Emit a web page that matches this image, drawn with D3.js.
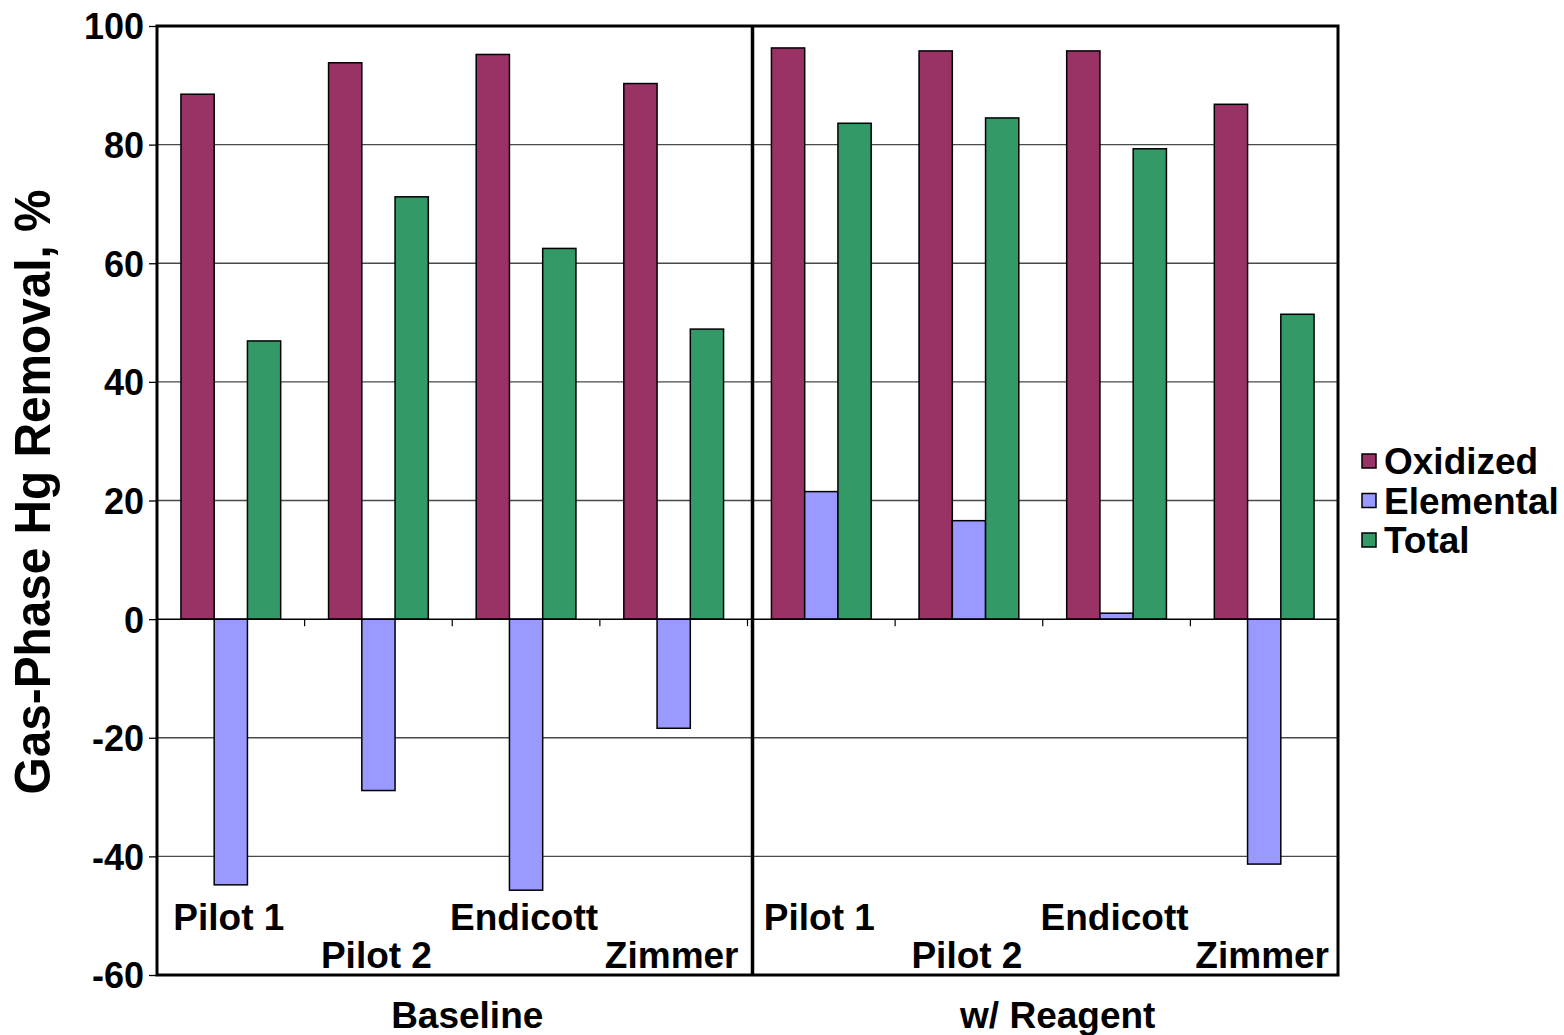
<!DOCTYPE html>
<html>
<head>
<meta charset="utf-8">
<script src="https://cdn.jsdelivr.net/npm/d3@7"></script>
<style>
  html, body { margin: 0; padding: 0; background: #fff; }
  svg { display: block; }
  text { font-family: Arial, "Liberation Sans", sans-serif; font-weight: bold; fill: #000; }
</style>
</head>
<body>
<svg id="chart" width="1564" height="1035"></svg>
<script>
// Sites tested, in the order they appear in each condition block
const sites = ["Pilot 1", "Pilot 2", "Endicott", "Zimmer"];
const conditions = ["Baseline", "w/ Reagent"];
const seriesNames = ["Oxidized", "Elemental", "Total"];
const seriesColors = ["#993366", "#9999FF", "#339966"];

// Removal (%) per site, baseline then with reagent
const oxidized  = [88.5, 93.8, 95.2, 90.3,   96.3, 95.8, 95.8, 86.8];
const elemental = [-44.8, -28.9, -45.7, -18.4, 21.5, 16.6, 1.0, -41.3];
const total     = [46.9, 71.2, 62.5, 48.9,   83.6, 84.5, 79.3, 51.4];

const yTicks = [-60, -40, -20, 0, 20, 40, 60, 80, 100];
const yTitle = "Gas-Phase Hg Removal, %";

const svg = d3.select("#chart");
const plot = { left: 157, right: 1338, top: 26, bottom: 975 };

// One slot per (condition, site) pair
const slots = [];
conditions.forEach((c, ci) => sites.forEach((s, si) => slots.push({ key: ci + "|" + s, cond: ci, site: s, siteIdx: si })));

const x = d3.scaleBand().domain(slots.map(d => d.key)).range([plot.left, plot.right]).padding(0);
const inner = d3.scaleBand().domain(seriesNames).range([0, x.bandwidth()]).paddingInner(0).paddingOuter(0.72);
const y = d3.scaleLinear().domain([-60, 100]).range([plot.bottom, plot.top]);

// Horizontal gridlines
svg.append("g").selectAll("line")
  .data(yTicks.filter(t => t !== 0 && t !== -60 && t !== 100))
  .join("line")
  .attr("x1", plot.left).attr("x2", plot.right)
  .attr("y1", d => y(d)).attr("y2", d => y(d))
  .attr("stroke", "#4a4a4a").attr("stroke-width", 1.3);

// Bars
const values = [oxidized, elemental, total];
const barData = [];
slots.forEach((s, i) => seriesNames.forEach((n, k) => barData.push({ slot: s.key, series: n, color: seriesColors[k], v: values[k][i] })));

svg.append("g").selectAll("rect")
  .data(barData)
  .join("rect")
  .attr("x", d => x(d.slot) + inner(d.series))
  .attr("width", inner.bandwidth())
  .attr("y", d => y(Math.max(0, d.v)))
  .attr("height", d => Math.abs(y(d.v) - y(0)))
  .attr("fill", d => d.color)
  .attr("stroke", "#000").attr("stroke-width", 1.5);

// Zero line with category tick marks
svg.append("line")
  .attr("x1", plot.left).attr("x2", plot.right)
  .attr("y1", y(0)).attr("y2", y(0))
  .attr("stroke", "#000").attr("stroke-width", 1.5);
svg.append("g").selectAll("line")
  .data(slots.slice(1))
  .join("line")
  .attr("x1", d => x(d.key)).attr("x2", d => x(d.key))
  .attr("y1", y(0)).attr("y2", y(0) + 7)
  .attr("stroke", "#000").attr("stroke-width", 1.2);

// Plot frame
svg.append("rect")
  .attr("x", plot.left).attr("y", plot.top)
  .attr("width", plot.right - plot.left).attr("height", plot.bottom - plot.top)
  .attr("fill", "none").attr("stroke", "#000").attr("stroke-width", 3);

// Divider between baseline and reagent blocks
const divX = x(slots[sites.length].key) + 5;
svg.append("line")
  .attr("x1", divX).attr("x2", divX)
  .attr("y1", plot.top - 1).attr("y2", plot.bottom)
  .attr("stroke", "#000").attr("stroke-width", 3.5);

// Y axis ticks and labels
const yAxis = d3.axisLeft(y).tickValues(yTicks).tickSize(8).tickPadding(5).tickFormat(d => String(d));
const gy = svg.append("g").attr("transform", `translate(${plot.left},0)`).call(yAxis);
gy.select(".domain").remove();
gy.selectAll(".tick line").attr("stroke", "#000").attr("stroke-width", 1.3);
gy.selectAll(".tick text")
  .attr("font-size", 36).attr("font-family", "Arial, 'Liberation Sans', sans-serif")
  .attr("font-weight", "bold").attr("fill", "#000").attr("dy", "0.36em");

// Site labels, alternating between two rows
svg.append("g").selectAll("text")
  .data(slots)
  .join("text")
  .attr("x", d => x(d.key) + x.bandwidth() / 2 - 2)
  .attr("y", d => d.siteIdx % 2 === 0 ? 930 : 968)
  .attr("text-anchor", "middle")
  .attr("font-size", 37)
  .text(d => d.site);

// Condition labels under each block
svg.append("g").selectAll("text")
  .data(conditions)
  .join("text")
  .attr("x", (d, i) => {
    const first = x(slots[i * sites.length].key);
    const last = x(slots[(i + 1) * sites.length - 1].key) + x.bandwidth();
    return (first + last) / 2 + 15;
  })
  .attr("y", 1028)
  .attr("text-anchor", "middle")
  .attr("font-size", 37)
  .text(d => d);

// Y axis title
svg.append("text")
  .attr("transform", `translate(50, 492) rotate(-90)`)
  .attr("text-anchor", "middle")
  .attr("font-size", 50)
  .attr("textLength", 605)
  .attr("lengthAdjust", "spacingAndGlyphs")
  .text(yTitle);

// Legend
const legend = svg.append("g").attr("transform", "translate(1362, 461)");
const items = legend.selectAll("g").data(seriesNames).join("g")
  .attr("transform", (d, i) => `translate(0, ${i * 39.5})`);
items.append("rect")
  .attr("x", 0).attr("y", -7).attr("width", 14).attr("height", 14)
  .attr("fill", (d, i) => seriesColors[i]).attr("stroke", "#000").attr("stroke-width", 1.5);
items.append("text")
  .attr("x", 22).attr("y", 0).attr("dy", "0.36em")
  .attr("font-size", 37)
  .text(d => d);
</script>
</body>
</html>
